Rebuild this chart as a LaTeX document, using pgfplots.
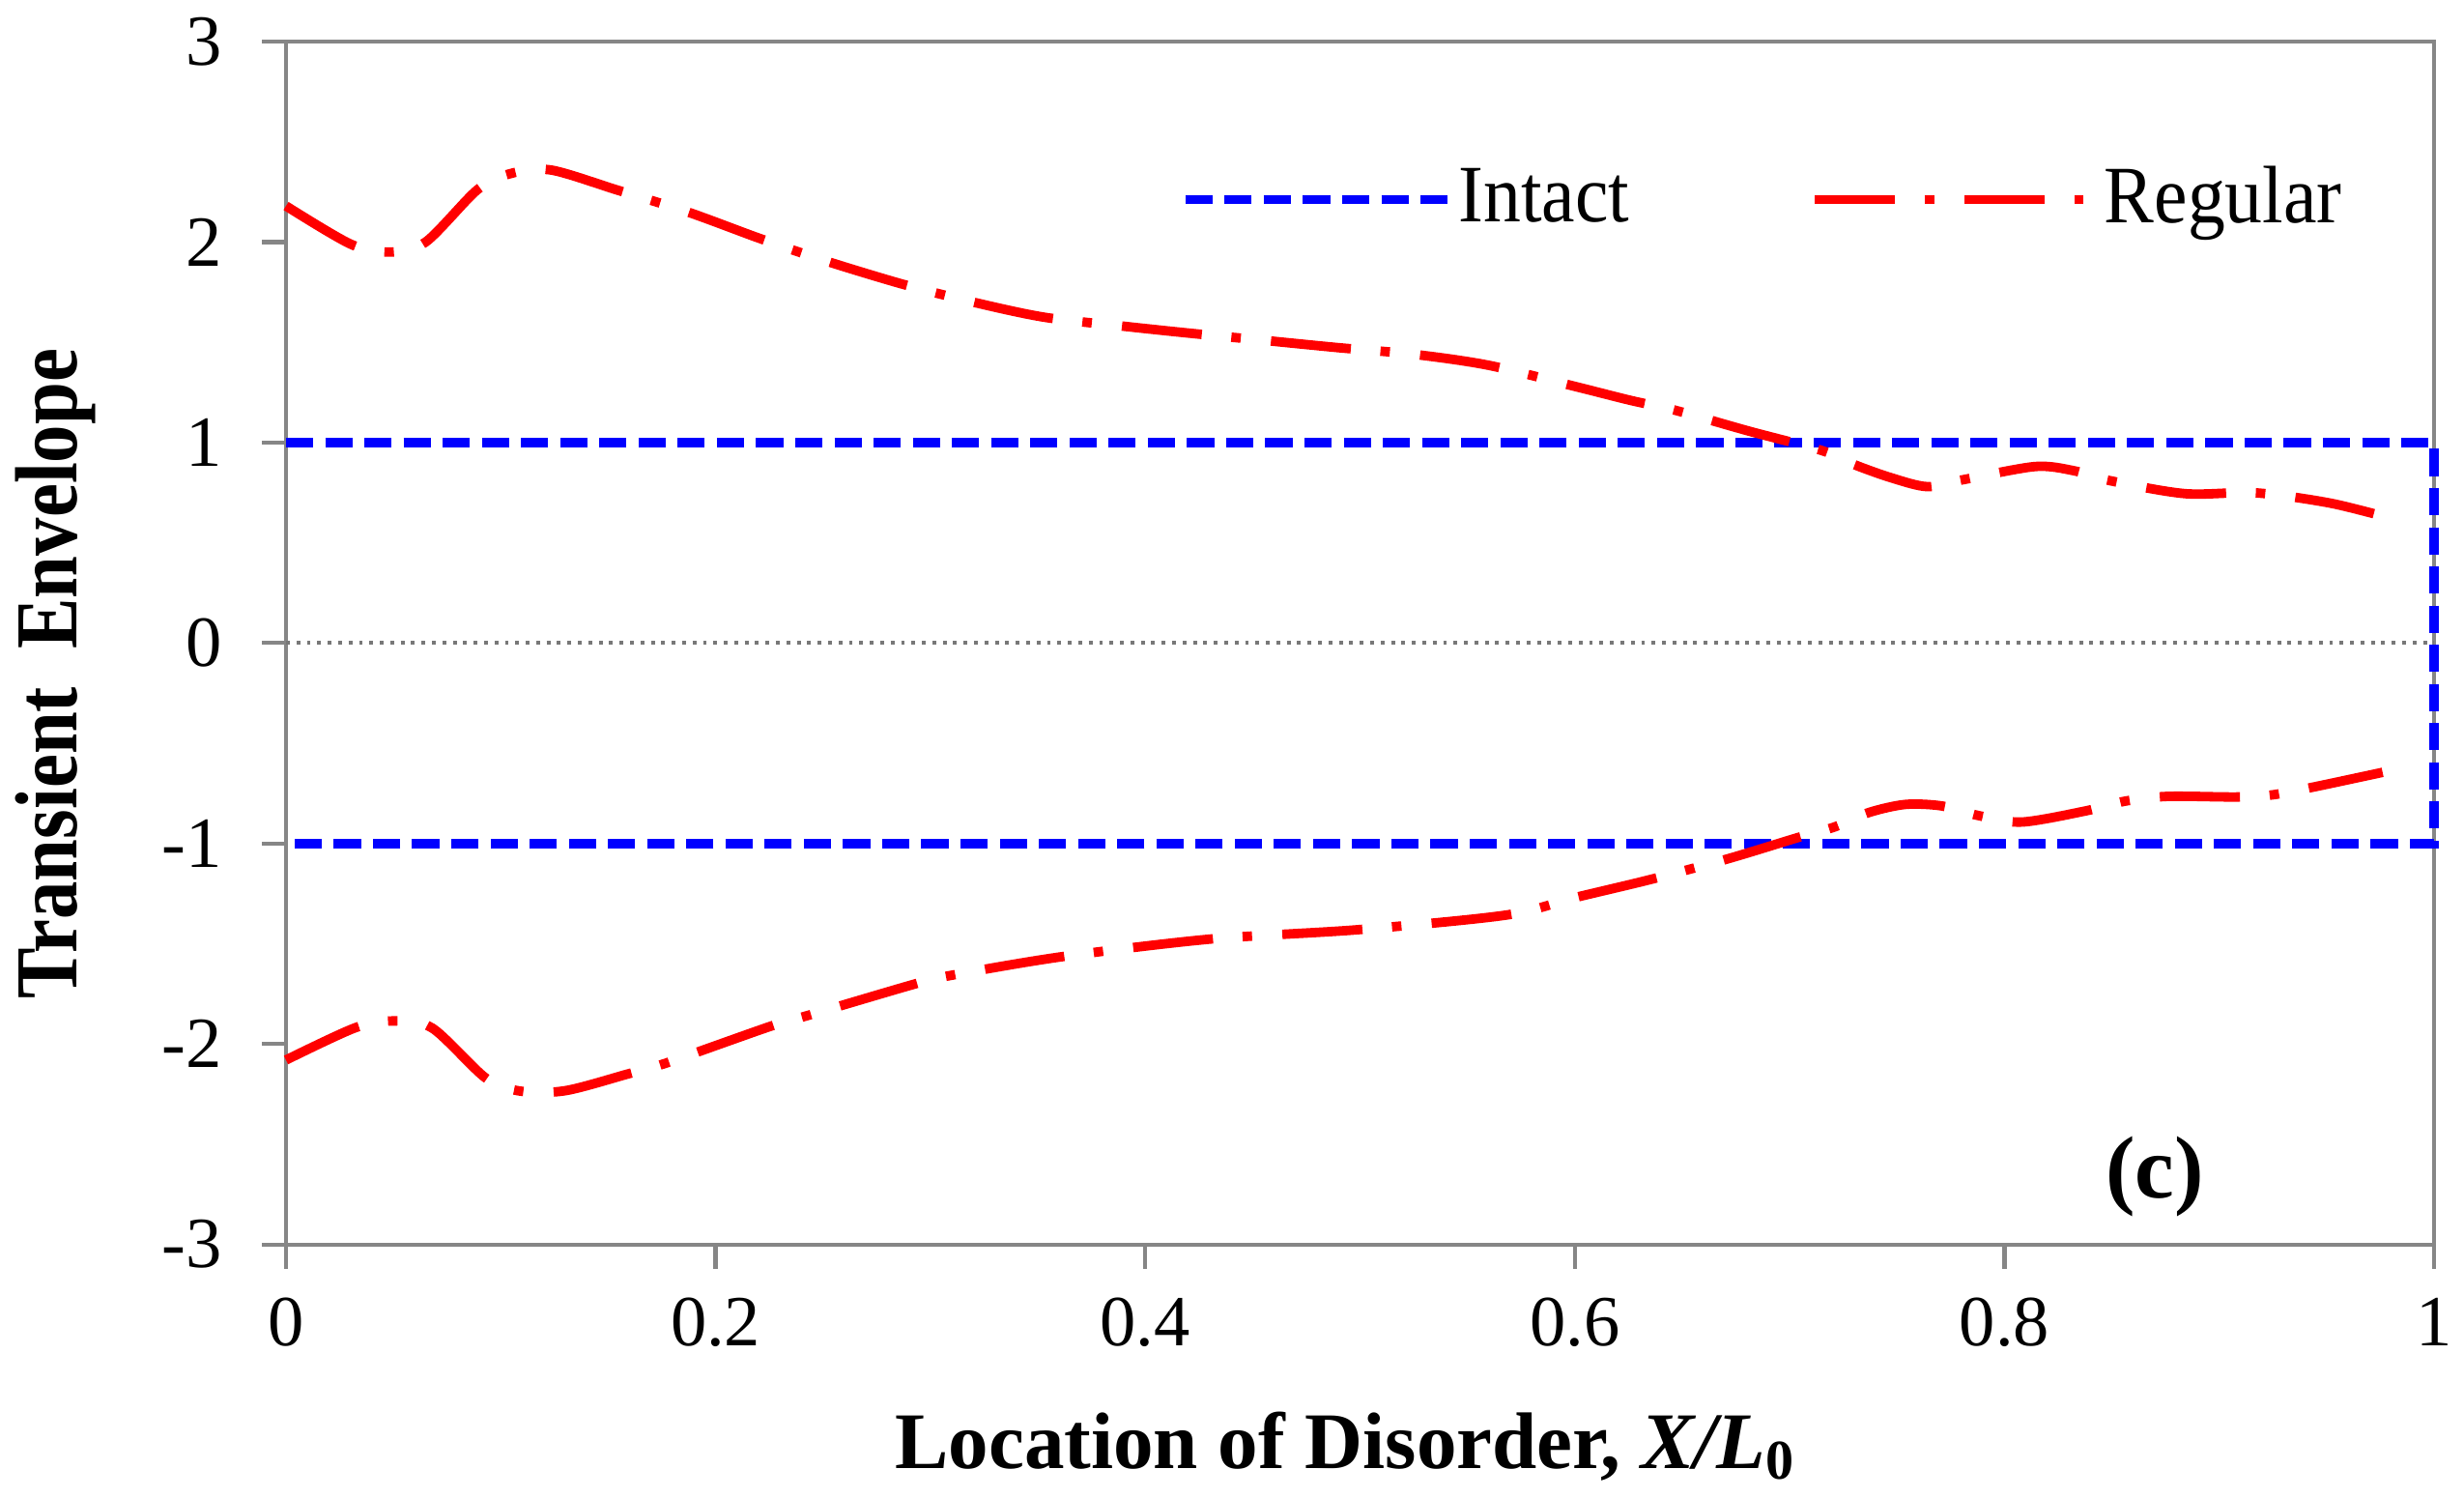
\documentclass[border=0pt]{standalone}
\usepackage{fontspec}
\setmainfont{Liberation Serif}
\newfontfamily\legfont[FakeStretch=0.92]{Liberation Serif}
\usepackage{graphicx}
\usepackage{pgfplots}
\usepackage{pgfplotstable}
\pgfplotsset{compat=1.18}
\definecolor{axgray}{RGB}{134,134,134}
\definecolor{zgray}{RGB}{120,120,120}

\pgfplotstableread{
x y
0     2.18
0.030 1.99
0.048 1.95
0.065 2.00
0.089 2.26
0.104 2.34
0.123 2.36
0.154 2.26
0.187 2.15
0.220 2.02
0.250 1.91
0.287 1.79
0.320 1.70
0.353 1.625
0.390 1.58
0.421 1.545
0.455 1.51
0.490 1.473
0.525 1.44
0.560 1.385
0.600 1.28
0.626 1.21
0.647 1.16
0.681 1.057
0.715 0.96
0.730 0.89
0.747 0.825
0.764 0.78
0.780 0.813
0.814 0.88
0.832 0.86
0.849 0.81
0.884 0.745
0.917 0.749
0.952 0.697
0.984 0.61
}\uppertab

\pgfplotstableread{
x y
0     -2.08
0.032 -1.92
0.050 -1.885
0.068 -1.92
0.093 -2.17
0.109 -2.235
0.130 -2.233
0.159 -2.15
0.177 -2.095
0.226 -1.91
0.2435 -1.856
0.293 -1.70
0.310 -1.657
0.361 -1.565
0.430 -1.477
0.499 -1.43
0.568 -1.357
0.600 -1.27
0.635 -1.18
0.671 -1.077
0.703 -0.973
0.721 -0.917
0.737 -0.845
0.754 -0.805
0.771 -0.813
0.788 -0.861
0.808 -0.893
0.838 -0.837
0.856 -0.789
0.876 -0.765
0.908 -0.768
0.925 -0.757
0.9445 -0.717
0.976 -0.645
}\lowertab

\begin{document}
\begin{tikzpicture}
\path[use as bounding box] (-45.27pt,-40.12pt) rectangle (344.73pt,196.94pt);
\begin{axis}[
  at={(0pt,0pt)}, anchor=south west,
  scale only axis,
  width=340pt, height=190.36pt,
  xmin=0, xmax=1, ymin=-3, ymax=3,
  xtick={0,0.2,0.4,0.6,0.8,1},
  ytick={-3,-2,-1,0,1,2,3},
  tick pos=left,
  tick align=outside,
  major tick length=3.8pt,
  axis line style={axgray, line width=0.66pt},
  every tick/.style={axgray, line width=0.66pt},
  /pgf/number format/assume math mode=true,
  ticklabel style={font=\fontsize{11.4}{13}\selectfont},
  yticklabel style={inner sep=0pt, xshift=-6.2pt},
  xticklabel style={inner sep=0pt, yshift=-4.5pt},
  clip=false,
  xlabel={\textbf{Location of Disorder, \textit{X/L}\textsubscript{0}}},
  xlabel style={font=\fontsize{12.7}{14}\selectfont, at={(axis description cs:0.4935,-0.186)}, anchor=base},
  ylabel={\scalebox{0.86}[1]{\fontsize{14}{16}\selectfont\bfseries Transient\ \ Envelope}},
  ylabel style={at={(axis description cs:-0.0975,0.4746)}, anchor=base, rotate=0},
  legend columns=2,
  legend image code/.code={\draw[#1] (0pt,0pt) -- (42.5pt,0pt);},
  legend style={draw=none, fill=none, at={(axis description cs:0.4165,0.8687)}, anchor=west,
    inner sep=0pt, outer sep=0pt, font=\legfont\fontsize{12.9}{14}\selectfont,
    nodes={inner sep=0pt},
    /tikz/every even column/.append style={column sep=28.6pt}},
]
\addplot[forget plot, zgray, line width=0.6pt, dash pattern=on 0.6pt off 1.05pt] coordinates {(0,0) (1,0)};
\addplot[blue, line width=1.5pt, dash pattern=on 4.3pt off 1.9pt] coordinates {(0,1) (1,1) (1,-1) (0,-1)};
\addlegendentry{Intact}
\addplot[red, line width=1.5pt, smooth, dash pattern=on 12.7pt off 4.7pt on 1.5pt off 4.8pt] table {\uppertab};
\addlegendentry{\hspace{2.6pt}Regular}
\addplot[forget plot, red, line width=1.5pt, smooth, dash pattern=on 12.7pt off 4.7pt on 1.5pt off 4.8pt] table {\lowertab};
\node[font=\fontsize{14}{16}\selectfont\bfseries] at (axis cs:0.870,-2.664) {(c)};
\end{axis}
\end{tikzpicture}
\end{document}
